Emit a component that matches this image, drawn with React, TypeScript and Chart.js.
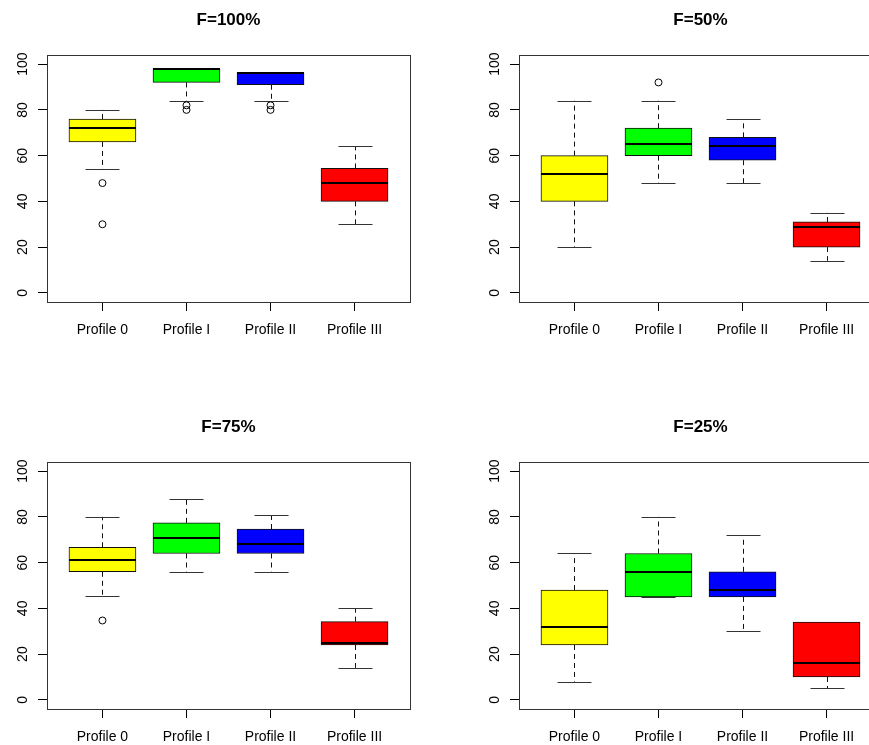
import React, { useEffect, useRef } from 'react';
import { Chart, registerables } from 'chart.js';
Chart.register(...registerables);

const FONT = '"Liberation Sans", Arial, Helvetica, sans-serif';

const categories = ['Profile 0', 'Profile I', 'Profile II', 'Profile III'];
const boxColors = ['#FFFF00', '#00FF00', '#0000FF', '#FF0000'];
const yTicks = [0, 20, 40, 60, 80, 100];

// each box: [lower whisker, Q1, median, Q3, upper whisker]
const f100Stats = [[54, 66, 72, 76, 80], [84, 92, 98, 98, 98], [84, 91, 96, 96, 96], [30, 40, 48, 54.4, 64]];
const f100Outliers = [[48, 30], [82, 80], [82, 80], []];

const f50Stats = [[20, 40, 52, 60, 84], [48, 60, 65, 72, 84], [48, 58, 64, 68, 76], [14, 20, 29, 31, 35]];
const f50Outliers = [[], [92], [], []];

const f75Stats = [[45.4, 56, 61.3, 66.7, 80], [56, 64, 70.7, 77.4, 88], [56, 64, 68, 74.7, 81], [14, 24, 25, 34.2, 40]];
const f75Outliers = [[34.7], [], [], []];

const f25Stats = [[8, 24, 32, 48, 64], [45, 45, 56, 64, 80], [30, 45, 48, 56, 72], [5, 10, 16, 34, 34]];
const f25Outliers = [[], [], [], []];

const panelTitles = ['F=100%', 'F=50%', 'F=75%', 'F=25%'];

const BOX_W = 67;
const CAP_W = 34;

const boxPlugin = {
  id: 'boxExtras',
  beforeDatasetsDraw(chart: any, _args: any, opts: any) {
    const stats: number[][] = opts.stats;
    const xs = chart.scales.x;
    const ys = chart.scales.y;
    const ctx = chart.ctx;
    ctx.save();
    ctx.strokeStyle = '#111';
    ctx.lineWidth = 1;
    stats.forEach((s, i) => {
      const x = Math.round(xs.getPixelForValue(i + 1)) + 0.5;
      const yMin = ys.getPixelForValue(s[0]);
      const yQ1 = ys.getPixelForValue(s[1]);
      const yQ3 = ys.getPixelForValue(s[3]);
      const yMax = ys.getPixelForValue(s[4]);
      ctx.setLineDash([5, 4]);
      ctx.beginPath();
      ctx.moveTo(x, yQ3);
      ctx.lineTo(x, yMax);
      ctx.moveTo(x, yQ1);
      ctx.lineTo(x, yMin);
      ctx.stroke();
      ctx.setLineDash([]);
      ctx.strokeStyle = '#333';
      ctx.beginPath();
      const yMaxA = Math.round(yMax) + 0.5;
      const yMinA = Math.round(yMin) + 0.5;
      ctx.moveTo(x - CAP_W / 2, yMaxA);
      ctx.lineTo(x + CAP_W / 2, yMaxA);
      ctx.moveTo(x - CAP_W / 2, yMinA);
      ctx.lineTo(x + CAP_W / 2, yMinA);
      ctx.stroke();
      ctx.strokeStyle = '#111';
    });
    ctx.restore();
  },
  afterDatasetsDraw(chart: any, _args: any, opts: any) {
    const stats: number[][] = opts.stats;
    const xs = chart.scales.x;
    const ys = chart.scales.y;
    const ctx = chart.ctx;
    ctx.save();
    ctx.strokeStyle = '#000';
    ctx.lineWidth = 2;
    stats.forEach((s, i) => {
      const x = xs.getPixelForValue(i + 1);
      const yMed = Math.round(ys.getPixelForValue(s[2]));
      ctx.beginPath();
      ctx.moveTo(x - BOX_W / 2, yMed);
      ctx.lineTo(x + BOX_W / 2, yMed);
      ctx.stroke();
    });
    const a = chart.chartArea;
    ctx.lineWidth = 1;
    ctx.strokeStyle = '#333';
    ctx.strokeRect(Math.round(a.left) + 0.5, Math.round(a.top) + 0.5, Math.round(a.right - a.left), Math.round(a.bottom - a.top));
    ctx.restore();
  },
};

function Panel({ title, stats, outliers, left, top }: { title: string; stats: number[][]; outliers: number[][]; left: number; top: number }) {
  const ref = useRef<HTMLCanvasElement>(null);
  useEffect(() => {
    const tickFont = { family: FONT, size: 14 };
    const chart = new Chart(ref.current as HTMLCanvasElement, {
      type: 'bar',
      data: {
        datasets: [
          {
            type: 'bar',
            data: stats.map((s, i) => ({ x: i + 1, y: [s[1], s[3]] })) as any,
            backgroundColor: boxColors,
            borderColor: '#111',
            borderWidth: 1,
            borderSkipped: false,
            barThickness: BOX_W,
          } as any,
          {
            type: 'scatter',
            data: outliers.flatMap((arr, i) => arr.map((v) => ({ x: i + 1, y: v }))) as any,
            pointStyle: 'circle',
            pointRadius: 3.5,
            pointBackgroundColor: 'rgba(0,0,0,0)',
            pointBorderColor: '#000',
            pointBorderWidth: 1,
          } as any,
        ],
      },
      options: {
        responsive: false,
        animation: false,
        events: [],
        layout: { padding: { left: 0, right: 30, top: 0, bottom: 0 } },
        plugins: {
          legend: { display: false },
          tooltip: { enabled: false },
          title: {
            display: true,
            text: title,
            fullSize: false,
            color: '#000',
            font: { family: FONT, size: 17, weight: 'bold' },
            padding: { top: 10, bottom: 24.6 },
          },
          boxExtras: { stats },
        } as any,
        scales: {
          x: {
            type: 'linear',
            min: 0.34,
            max: 4.66,
            offset: false,
            afterBuildTicks: (s: any) => {
              s.ticks = categories.map((_, i) => ({ value: i + 1 }));
            },
            afterFit: (s: any) => {
              s.height = 70;
            },
            grid: { display: true, offset: false, drawOnChartArea: false, drawTicks: true, tickLength: 9, color: '#000', lineWidth: 1 },
            border: { display: false },
            ticks: {
              autoSkip: false,
              maxRotation: 0,
              minRotation: 0,
              padding: 10.6,
              color: '#000',
              font: tickFont,
              callback: (_v: any, i: number) => categories[i],
            },
          },
          y: {
            type: 'linear',
            min: -4,
            max: 104,
            afterBuildTicks: (s: any) => {
              s.ticks = yTicks.map((v) => ({ value: v }));
            },
            afterFit: (s: any) => {
              s.width = 47;
            },
            grid: { display: true, drawOnChartArea: false, drawTicks: true, tickLength: 9, color: '#000', lineWidth: 1 },
            border: { display: false },
            ticks: {
              minRotation: 90,
              maxRotation: 90,
              crossAlign: 'center',
              padding: 3.6,
              color: '#000',
              font: tickFont,
              callback: (_v: any, i: number) => String(yTicks[i]),
            },
          },
        } as any,
      },
      plugins: [boxPlugin as any],
    });
    return () => chart.destroy();
  }, []);
  return (
    <canvas
      ref={ref}
      width={440}
      height={372}
      style={{ position: 'absolute', left, top, width: 440, height: 372 }}
    />
  );
}

export default function App() {
  return (
    <div style={{ position: 'fixed', left: 0, top: 0, width: 869, height: 745, overflow: 'hidden', background: '#fff' }}>
      <Panel title={panelTitles[0]} stats={f100Stats} outliers={f100Outliers} left={0} top={0} />
      <Panel title={panelTitles[1]} stats={f50Stats} outliers={f50Outliers} left={472} top={0} />
      <Panel title={panelTitles[2]} stats={f75Stats} outliers={f75Outliers} left={0} top={407} />
      <Panel title={panelTitles[3]} stats={f25Stats} outliers={f25Outliers} left={472} top={407} />
    </div>
  );
}
